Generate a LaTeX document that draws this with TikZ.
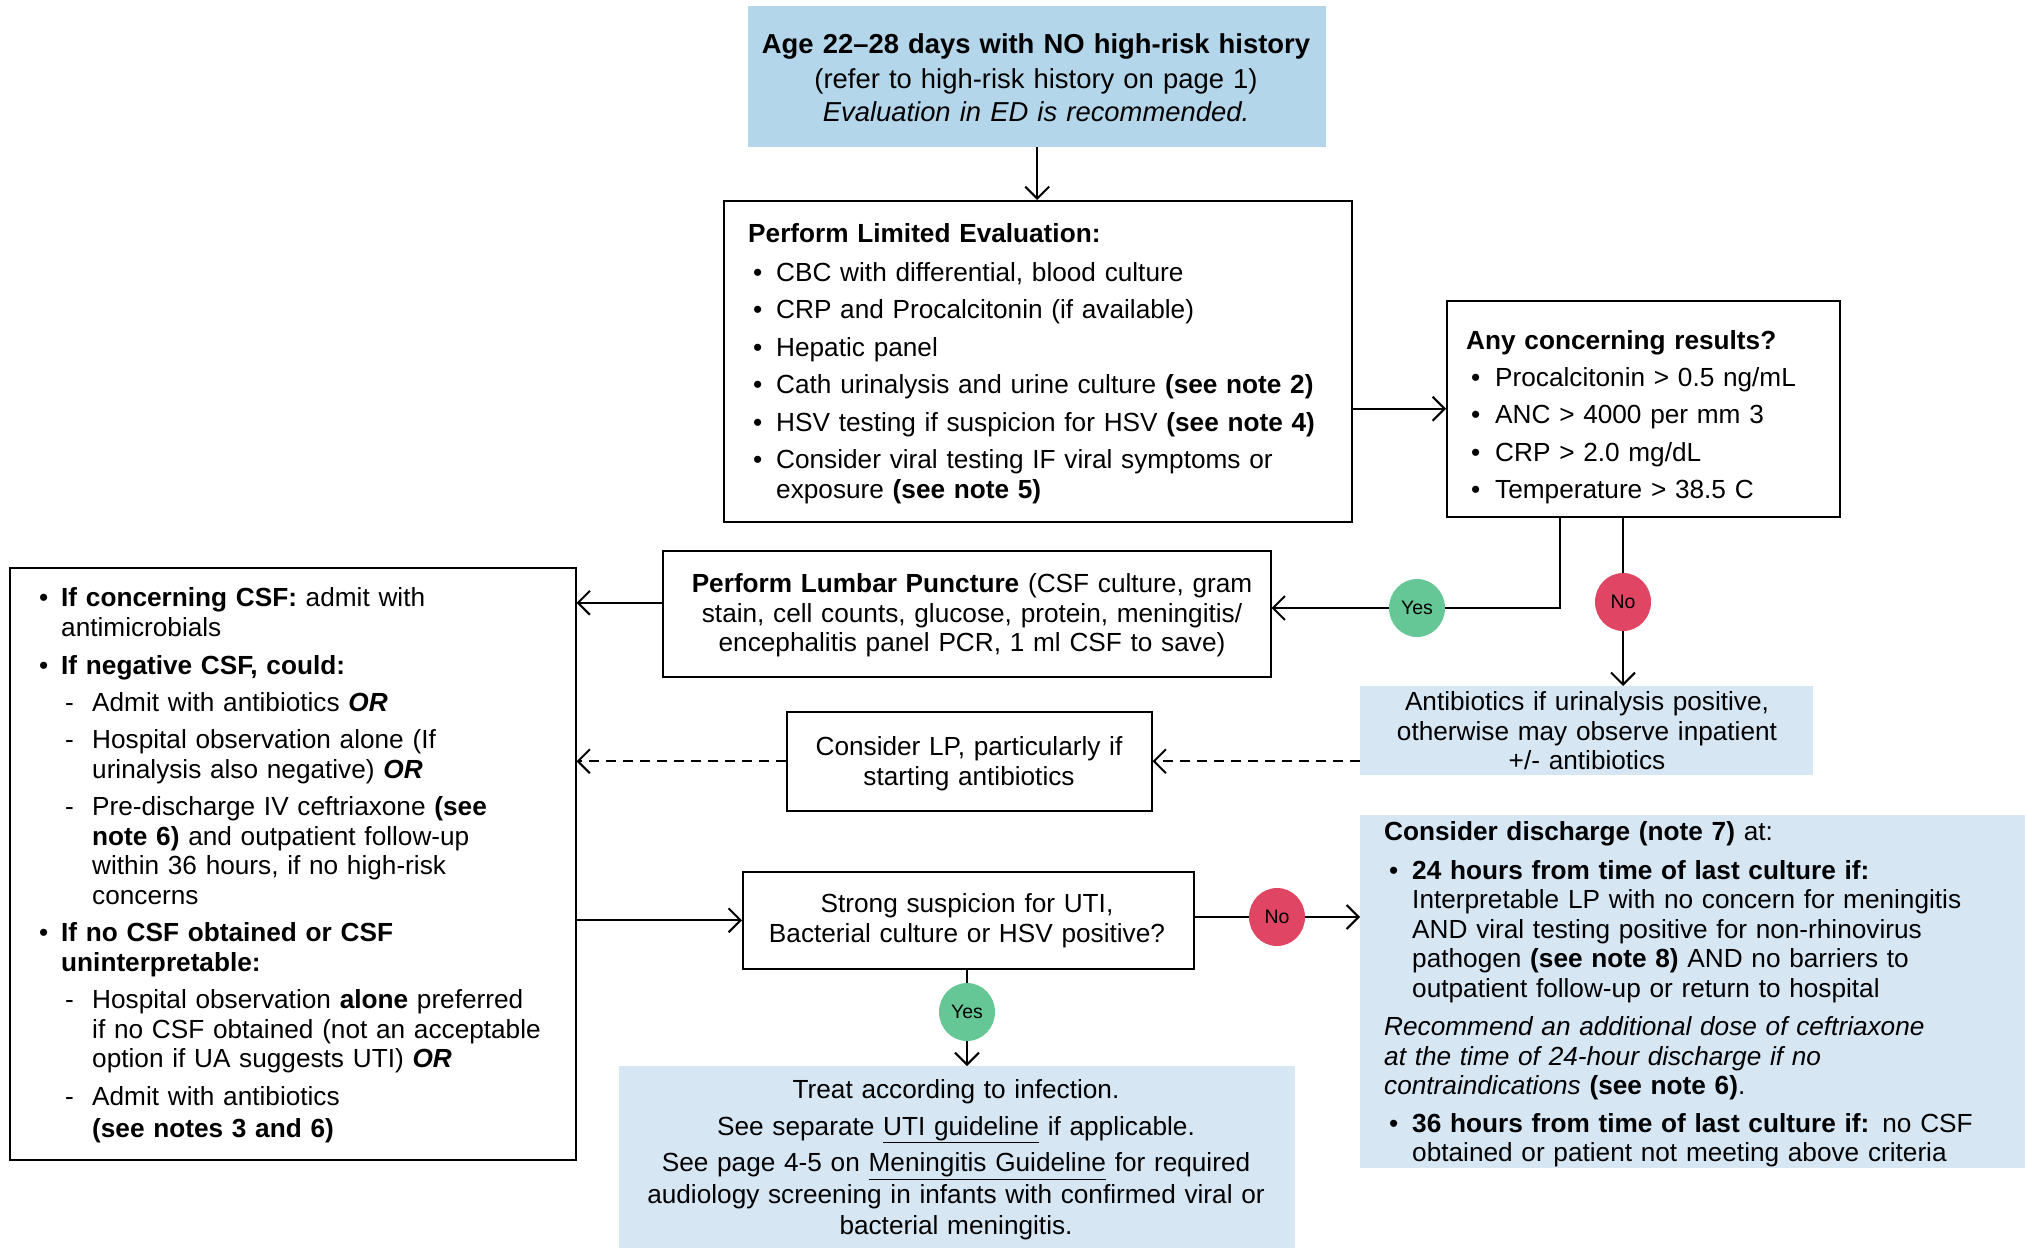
\documentclass[tikz,border=0pt]{standalone}
\usepackage{fontspec}
\setmainfont{Liberation Sans}
\usetikzlibrary{arrows.meta,shapes.geometric}
\definecolor{topblue}{RGB}{180,214,234}
\definecolor{lightblue}{RGB}{214,230,243}
\definecolor{yesgreen}{RGB}{102,199,150}
\definecolor{nored}{RGB}{224,69,99}
\newcommand{\fs}{\fontsize{26.2}{29.5}\selectfont}
\newcommand{\bul}[1]{\makebox[#1][l]{\textbullet}}
\newcommand{\dsh}{\hspace*{26pt}\makebox[27pt][l]{-}}
\begin{document}
\begin{tikzpicture}[x=1pt,y=-1pt,
  box/.style={draw=black, line width=1.5pt, inner sep=0pt, anchor=north west},
  fbox/.style={fill=#1, inner sep=0pt, anchor=north west},
  ltxt/.style={inner sep=0pt, font=\fs, align=left, anchor=north west, text width=760pt},
  ctxt/.style={inner sep=0pt, font=\fs, align=center, anchor=north, text width=760pt},
  circ/.style={ellipse, fill=#1, minimum width=56pt, minimum height=58pt, inner sep=0pt, font=\fontsize{19.5}{22}\selectfont},
  ln/.style={draw, line width=2pt},
  arr/.style={draw, line width=2pt, -{Straight Barb[length=12pt,width=24pt]}},
  darr/.style={arr, dash pattern=on 10pt off 7pt}]
\useasboundingbox (0,0) rectangle (2026,1248);
% boxes
\node[fbox=topblue, minimum width=578pt, minimum height=141pt] (top) at (748,6) {};
\node[box, minimum width=628pt, minimum height=321pt] (lim) at (723,200) {};
\node[box, minimum width=393pt, minimum height=216pt] (conc) at (1446,300) {};
\node[box, minimum width=608pt, minimum height=126pt] (lump) at (662,550) {};
\node[box, minimum width=566pt, minimum height=592pt] (left) at (9,567) {};
\node[fbox=lightblue, minimum width=453pt, minimum height=89pt] (anti) at (1360,686) {};
\node[box, minimum width=365pt, minimum height=99pt] (clp) at (786,711) {};
\node[box, minimum width=451pt, minimum height=97pt] (strong) at (742,871) {};
\node[fbox=lightblue, minimum width=676pt, minimum height=182pt] (treat) at (619,1066) {};
\node[fbox=lightblue, minimum width=665pt, minimum height=353pt] (disc) at (1360,815) {};
% texts
\node[ctxt, font=\fontsize{27.4}{33}\selectfont] (toptxt) at (1036,30) {\strut\textbf{Age 22–28 days with NO high-risk history}\\[2pt]
(refer to high-risk history on page 1)\\
\textit{Evaluation in ED is recommended.}};
\node[ltxt] (limtxt) at (748,222) {\strut\textbf{Perform Limited Evaluation:}\\[9pt]
\hspace*{5pt}\bul{23pt}CBC with differential, blood culture\\[8pt]
\hspace*{5pt}\bul{23pt}CRP and Procalcitonin (if available)\\[8pt]
\hspace*{5pt}\bul{23pt}Hepatic panel\\[8pt]
\hspace*{5pt}\bul{23pt}Cath urinalysis and urine culture \textbf{(see note 2)}\\[8pt]
\hspace*{5pt}\bul{23pt}HSV testing if suspicion for HSV \textbf{(see note 4)}\\[8pt]
\hspace*{5pt}\bul{23pt}Consider viral testing IF viral symptoms or\\
\hspace*{28pt}exposure \textbf{(see note 5)}};
\node[ltxt] (conctxt) at (1466,329) {\strut\textbf{Any concerning results?}\\[7pt]
\hspace*{5pt}\bul{24pt}Procalcitonin > 0.5 ng/mL\\[8pt]
\hspace*{5pt}\bul{24pt}ANC > 4000 per mm 3\\[8pt]
\hspace*{5pt}\bul{24pt}CRP > 2.0 mg/dL\\[8pt]
\hspace*{5pt}\bul{24pt}Temperature > 38.5 C};
\node[ctxt] (lumptxt) at (972,572) {\strut\textbf{Perform Lumbar Puncture} (CSF culture, gram\\
stain, cell counts, glucose, protein, meningitis/\\
encephalitis panel PCR, 1 ml CSF to save)};
\node[ltxt] (lefttxt) at (39,586) {\strut\bul{22pt}\textbf{If concerning CSF:} admit with\\
\hspace*{22pt}antimicrobials\\[9pt]
\bul{22pt}\textbf{If negative CSF, could:}\\[7pt]
\dsh Admit with antibiotics \textbf{\textit{OR}}\\[8pt]
\dsh Hospital observation alone (If\\
\hspace*{53pt}urinalysis also negative) \textbf{\textit{OR}}\\[8pt]
\dsh Pre-discharge IV ceftriaxone \textbf{(see}\\
\hspace*{53pt}\textbf{note 6)} and outpatient follow-up\\
\hspace*{53pt}within 36 hours, if no high-risk\\
\hspace*{53pt}concerns\\[8pt]
\bul{22pt}\textbf{If no CSF obtained or CSF}\\
\hspace*{22pt}\textbf{uninterpretable:}\\[8pt]
\dsh Hospital observation \textbf{alone} preferred\\
\hspace*{53pt}if no CSF obtained (not an acceptable\\
\hspace*{53pt}option if UA suggests UTI) \textbf{\textit{OR}}\\[8pt]
\dsh Admit with antibiotics\\[3pt]
\hspace*{53pt}\textbf{(see notes 3 and 6)}};
\node[ctxt] (antitxt) at (1587,690) {\strut Antibiotics if urinalysis positive,\\
otherwise may observe inpatient\\
+/- antibiotics};
\node[ctxt] (clptxt) at (969,735) {\strut Consider LP, particularly if\\
starting antibiotics};
\node[ctxt] (strongtxt) at (967,892) {\strut Strong suspicion for UTI,\\
Bacterial culture or HSV positive?};
\node[ctxt] (treattxt) at (956,1078) {\strut Treat according to infection.\\[7pt]
See separate \underline{UTI guideline} if applicable.\\[7pt]
See page 4-5 on \underline{Meningitis Guideline} for required\\[2pt]
audiology screening in infants with confirmed viral or\\[2pt]
bacterial meningitis.};
\node[ltxt] (disctxt) at (1384,820) {\strut\textbf{Consider discharge (note 7)} at:\\[9pt]
\hspace*{5pt}\bul{23pt}\textbf{24 hours from time of last culture if:}\\
\hspace*{28pt}Interpretable LP with no concern for meningitis\\
\hspace*{28pt}AND viral testing positive for non-rhinovirus\\
\hspace*{28pt}pathogen \textbf{(see note 8)} AND no barriers to\\
\hspace*{28pt}outpatient follow-up or return to hospital\\[9pt]
\textit{Recommend an additional dose of ceftriaxone}\\
\textit{at the time of 24-hour discharge if no}\\
\textit{contraindications} \textbf{(see note 6)}.\\[8pt]
\hspace*{5pt}\bul{23pt}\textbf{36 hours from time of last culture if:} no CSF\\
\hspace*{28pt}obtained or patient not meeting above criteria};
% decision circles
\node[circ=yesgreen] (yes1) at (1417,608) {Yes};
\node[circ=nored] (no1) at (1623,602) {No};
\node[circ=nored] (no2) at (1277,917) {No};
\node[circ=yesgreen] (yes2) at (967,1012) {Yes};
% connectors
\draw[arr] (top.south) -- (top.south |- lim.north);
\draw[arr] (conc.west -| lim.east) -- (conc.west);
\draw[ln] ([xshift=114pt]conc.south west) |- (yes1.east);
\draw[arr] (yes1.west) -- (yes1.west -| lump.east);
\draw[ln] (conc.south -| no1) -- (no1.north);
\draw[arr] (no1.south) -- (no1.south |- anti.north);
\draw[arr] ([yshift=11pt]lump.west) -- ([yshift=11pt]lump.west -| left.east);
\draw[darr] (clp.east -| anti.west) -- (clp.east);
\draw[darr] (clp.west) -- (clp.west -| left.east);
\draw[arr] (strong.west -| left.east) -- (strong.west);
\draw[ln] (strong.east |- no2) -- (no2.west);
\draw[arr] (no2.east) -- (no2 -| disc.west);
\draw[ln] (strong.south -| yes2) -- (yes2.north);
\draw[arr] (yes2.south) -- (yes2 |- treat.north);
\end{tikzpicture}
\end{document}
